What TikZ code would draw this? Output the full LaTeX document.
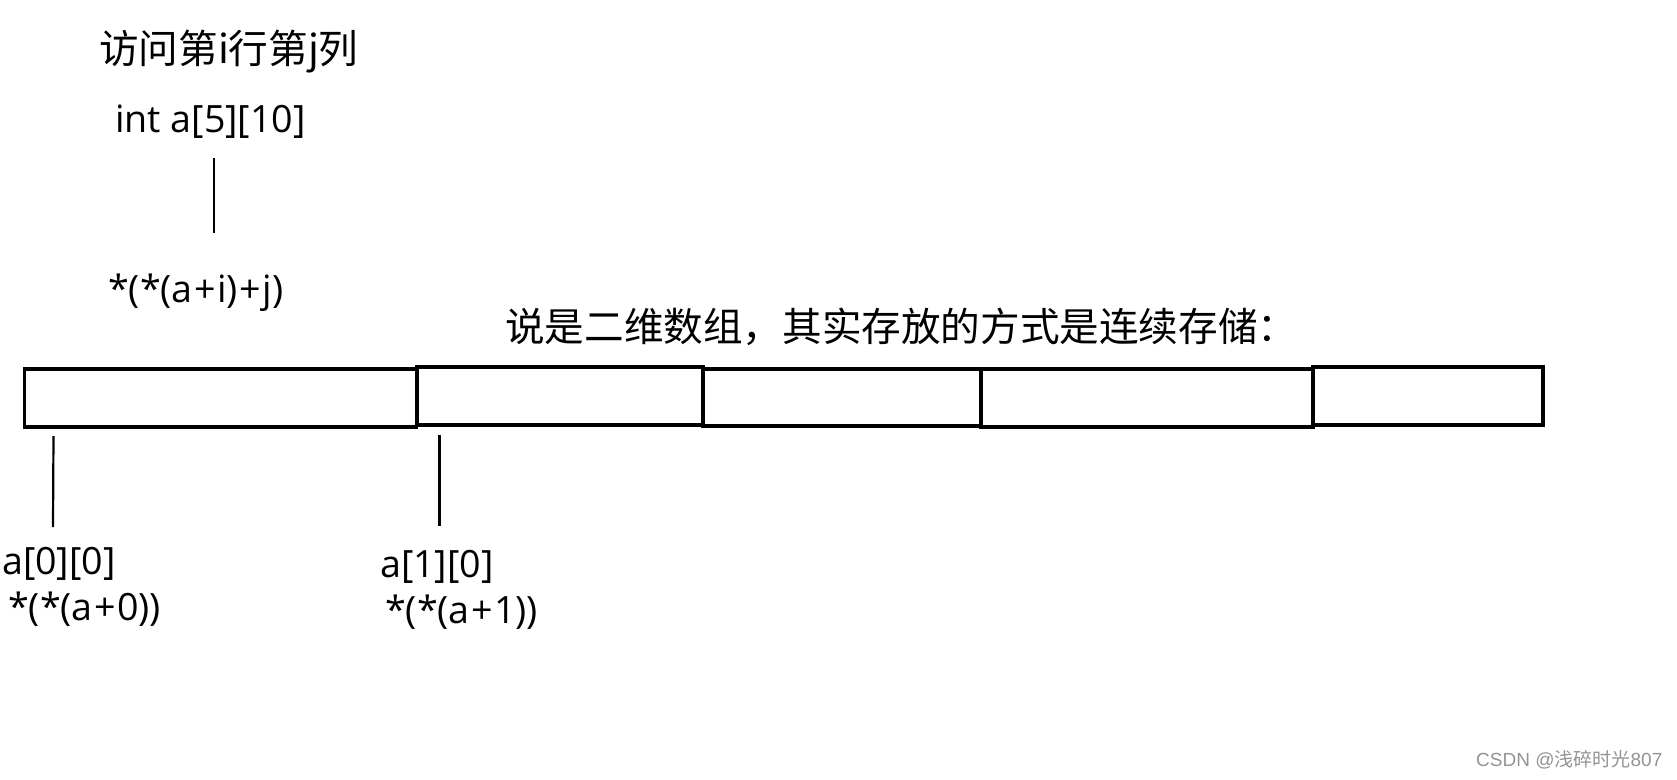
\documentclass[tikz,border=0pt]{standalone}
\usepackage{fontspec}
\setmainfont{Open Sans}
\newfontfamily\cjk{Noto Sans CJK SC}
\newfontfamily\wmfont{Liberation Sans}
\newcommand{\pls}{\kern1.5pt+\kern1.5pt}
\begin{document}
\begin{tikzpicture}[x=1pt,y=-1pt,
  txt/.style={anchor=base west,inner sep=0pt,font=\fontsize{37.6}{44}\selectfont},
  cjktxt/.style={anchor=base west,inner sep=0pt,font=\cjk\fontsize{39.6}{46}\selectfont},
  cell/.style={draw,line width=3.2pt,anchor=north west,inner sep=0pt,outer sep=0pt},
  tick/.style={line width=2.2pt},
  wm/.style={anchor=base west,inner sep=0pt,text=black!42,font=\wmfont\fontsize{19}{22}\selectfont}]
\useasboundingbox (0,0) rectangle (1677,779);
\fill[white] (0,0) rectangle (1677,779);
% texts
\node[cjktxt] (title) at (99,63) {访问第i行第j列};
\node[txt] (decl) at (115,132) {int a[5][10]};
\node[txt] (expr) at (108,302) {*(*(a\pls i)\pls j)};
\node[cjktxt] (note) at (505,341) {说是二维数组，其实存放的方式是连续存储：};
\node[txt] (a00) at (2,574) {a[0][0]};
\node[txt] (p00) at (8,620) {*(*(a\pls 0))};
\node[txt] (a10) at (380,577) {a[1][0]};
\node[txt] (p10) at (385,623) {*(*(a\pls 1))};
% cells
\node[cell,minimum width=392pt,minimum height=58pt] (c1) at (24.6,369) {};
\node[cell,minimum width=286pt,minimum height=58pt] (c2) at (417,367) {};
\node[cell,minimum width=278pt,minimum height=57pt] (c3) at (703,369) {};
\node[cell,minimum width=332pt,minimum height=58pt] (c4) at (981,369) {};
\node[cell,minimum width=230pt,minimum height=58pt] (c5) at (1313,367) {};
% ticks
\coordinate (t1a) at (214,158);
\coordinate (t1b) at (214,233);
\coordinate (t2a) at (53.5,436);
\coordinate (t2b) at (53,527);
\coordinate (t3a) at (439.5,435);
\coordinate (t3b) at (439.5,526);
\draw[tick] (t1a) -- (t1b);
\draw[tick] (t2a) -- (t2b);
\draw[tick] (t3a) -- (t3b);
% watermark
\node[wm] (mark) at (1476,766) {CSDN @{\cjk 浅碎时光}807};
\end{tikzpicture}
\end{document}
